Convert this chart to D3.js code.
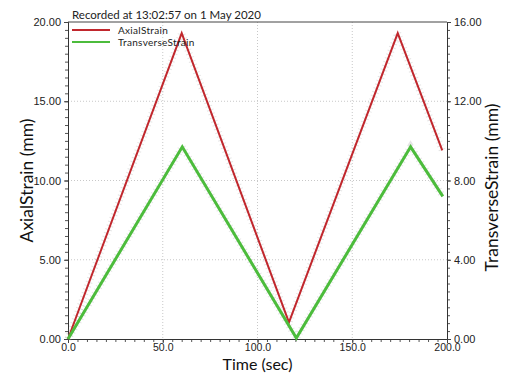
<!DOCTYPE html>
<html>
<head>
<meta charset="utf-8">
<script src="https://cdn.jsdelivr.net/npm/d3@7"></script>
<style>
  body { margin: 0; background: #fff; }
  svg { display: block; font-family: Lato, "Open Sans", sans-serif; }
</style>
</head>
<body>
<svg id="chart"></svg>
<script>
// Chart data
const title = "Recorded at 13:02:57 on 1 May 2020";
const axialTime = [0, 60.0, 116.6, 174.0, 197.5];
const axialStrain = [0, 19.3, 1.05, 19.3, 11.9];
const transTime = [0, 60.3, 120.5, 180.8, 197.8];
const transStrain = [0, 9.7, 0.05, 9.7, 7.2];
const xTicks = [0, 50, 100, 150, 200];
const yLeftTicks = [0, 5, 10, 15, 20];
const yRightTicks = [0, 4, 8, 12, 16];
const seriesNames = ["AxialStrain", "TransverseStrain"];
const seriesColors = ["#c1272d", "#4cbc3c"];

const width = 507;
const height = 374;
const margin = { top: 22, right: 60, bottom: 35, left: 68 };
const innerW = width - margin.left - margin.right;
const innerH = height - margin.top - margin.bottom;

const svg = d3.select("#chart").attr("width", width).attr("height", height);
const g = svg.append("g").attr("transform", `translate(${margin.left},${margin.top})`);

const x = d3.scaleLinear().domain([0, 200]).range([0, innerW]);
const yL = d3.scaleLinear().domain([0, 20]).range([innerH, 0]);
const yR = d3.scaleLinear().domain([0, 16]).range([innerH, 0]);

// dotted grid at the major ticks
g.append("g")
    .selectAll("line")
    .data(xTicks.slice(1, -1))
    .join("line")
    .attr("x1", (d) => x(d)).attr("x2", (d) => x(d))
    .attr("y1", 0).attr("y2", innerH)
    .attr("stroke", "#c8c8c8").attr("stroke-dasharray", "1,2");
g.append("g")
    .selectAll("line")
    .data(yLeftTicks.slice(1, -1))
    .join("line")
    .attr("y1", (d) => yL(d)).attr("y2", (d) => yL(d))
    .attr("x1", 0).attr("x2", innerW)
    .attr("stroke", "#c8c8c8").attr("stroke-dasharray", "1,2");

// minor ticks
function minorAxis(axis, scale, step, max) {
    return axis(scale).tickValues(d3.range(0, max + step / 2, step)).tickSize(3).tickFormat("");
}
const axisStyle = (sel) => {
    sel.select(".domain").attr("stroke", "#333");
    sel.selectAll(".tick line").attr("stroke", "#555");
};
g.append("g").attr("transform", `translate(0,${innerH})`)
    .call(minorAxis(d3.axisBottom, x, 5, 200)).call(axisStyle);
g.append("g").call(minorAxis(d3.axisLeft, yL, 0.5, 20)).call(axisStyle);
g.append("g").attr("transform", `translate(${innerW},0)`)
    .call(minorAxis(d3.axisRight, yR, 0.4, 16)).call(axisStyle);

// major axes with labels
const labelStyle = (sel) => {
    sel.select(".domain").attr("stroke", "#333");
    sel.selectAll(".tick line").attr("stroke", "#444");
    sel.selectAll(".tick text").attr("fill", "#222").attr("font-size", 11);
};
g.append("g").attr("transform", `translate(0,${innerH})`)
    .call(d3.axisBottom(x).tickValues(xTicks).tickFormat(d3.format(".1f")).tickSize(4).tickPadding(1))
    .call(labelStyle)
    .call((sel) => sel.selectAll(".tick text").attr("font-size", 10.5));
g.append("g")
    .call(d3.axisLeft(yL).tickValues(yLeftTicks).tickFormat(d3.format(".2f")).tickSize(4).tickPadding(3))
    .call(labelStyle);
g.append("g").attr("transform", `translate(${innerW},0)`)
    .call(d3.axisRight(yR).tickValues(yRightTicks).tickFormat(d3.format(".2f")).tickSize(4).tickPadding(3))
    .call(labelStyle);

// top frame line
g.append("line").attr("x1", 0).attr("x2", innerW).attr("y1", 0).attr("y2", 0)
    .attr("stroke", "#444");

// series
const axialPts = axialTime.map((t, i) => [x(t), yL(axialStrain[i])]);
const transPts = transTime.map((t, i) => [x(t), yR(transStrain[i])]);
const line = d3.line();

// faint raw-sample haze under each trace
[axialPts, transPts].forEach((pts) => {
    g.append("path").attr("d", line(pts)).attr("fill", "none")
        .attr("stroke", "#999").attr("stroke-width", 7).attr("stroke-opacity", 0.25)
        .attr("stroke-dasharray", "1,3");
});
g.append("path").attr("d", line(axialPts)).attr("fill", "none")
    .attr("stroke", seriesColors[0]).attr("stroke-width", 2);
g.append("path").attr("d", line(transPts)).attr("fill", "none")
    .attr("stroke", seriesColors[1]).attr("stroke-width", 3);

// legend
const legend = g.append("g").attr("transform", "translate(4,8)");
seriesNames.forEach((name, i) => {
    const row = legend.append("g").attr("transform", `translate(0,${i * 12})`);
    row.append("line").attr("x1", 0).attr("x2", 38).attr("y1", 0).attr("y2", 0)
        .attr("stroke", seriesColors[i]).attr("stroke-width", 2);
    row.append("text").attr("x", 46).attr("y", 3.5).attr("font-size", 10)
        .attr("letter-spacing", 0.3).attr("fill", "#222").text(name);
});

// title
svg.append("text").attr("x", margin.left + 4).attr("y", 19)
    .attr("font-size", 11.5).attr("fill", "#222").text(title);

// axis titles
svg.append("text").attr("x", margin.left + innerW / 2).attr("y", 370)
    .attr("text-anchor", "middle").attr("font-size", 16).attr("fill", "#111")
    .text("Time (sec)");
svg.append("text").attr("transform", `translate(33,${margin.top + innerH / 2}) rotate(-90)`)
    .attr("text-anchor", "middle").attr("font-size", 17.5).attr("fill", "#111")
    .text("AxialStrain (mm)");
svg.append("text").attr("transform", `translate(498,${margin.top + innerH / 2 + 7}) rotate(-90)`)
    .attr("text-anchor", "middle").attr("font-size", 17.5).attr("fill", "#111")
    .text("TransverseStrain (mm)");
</script>
</body>
</html>
